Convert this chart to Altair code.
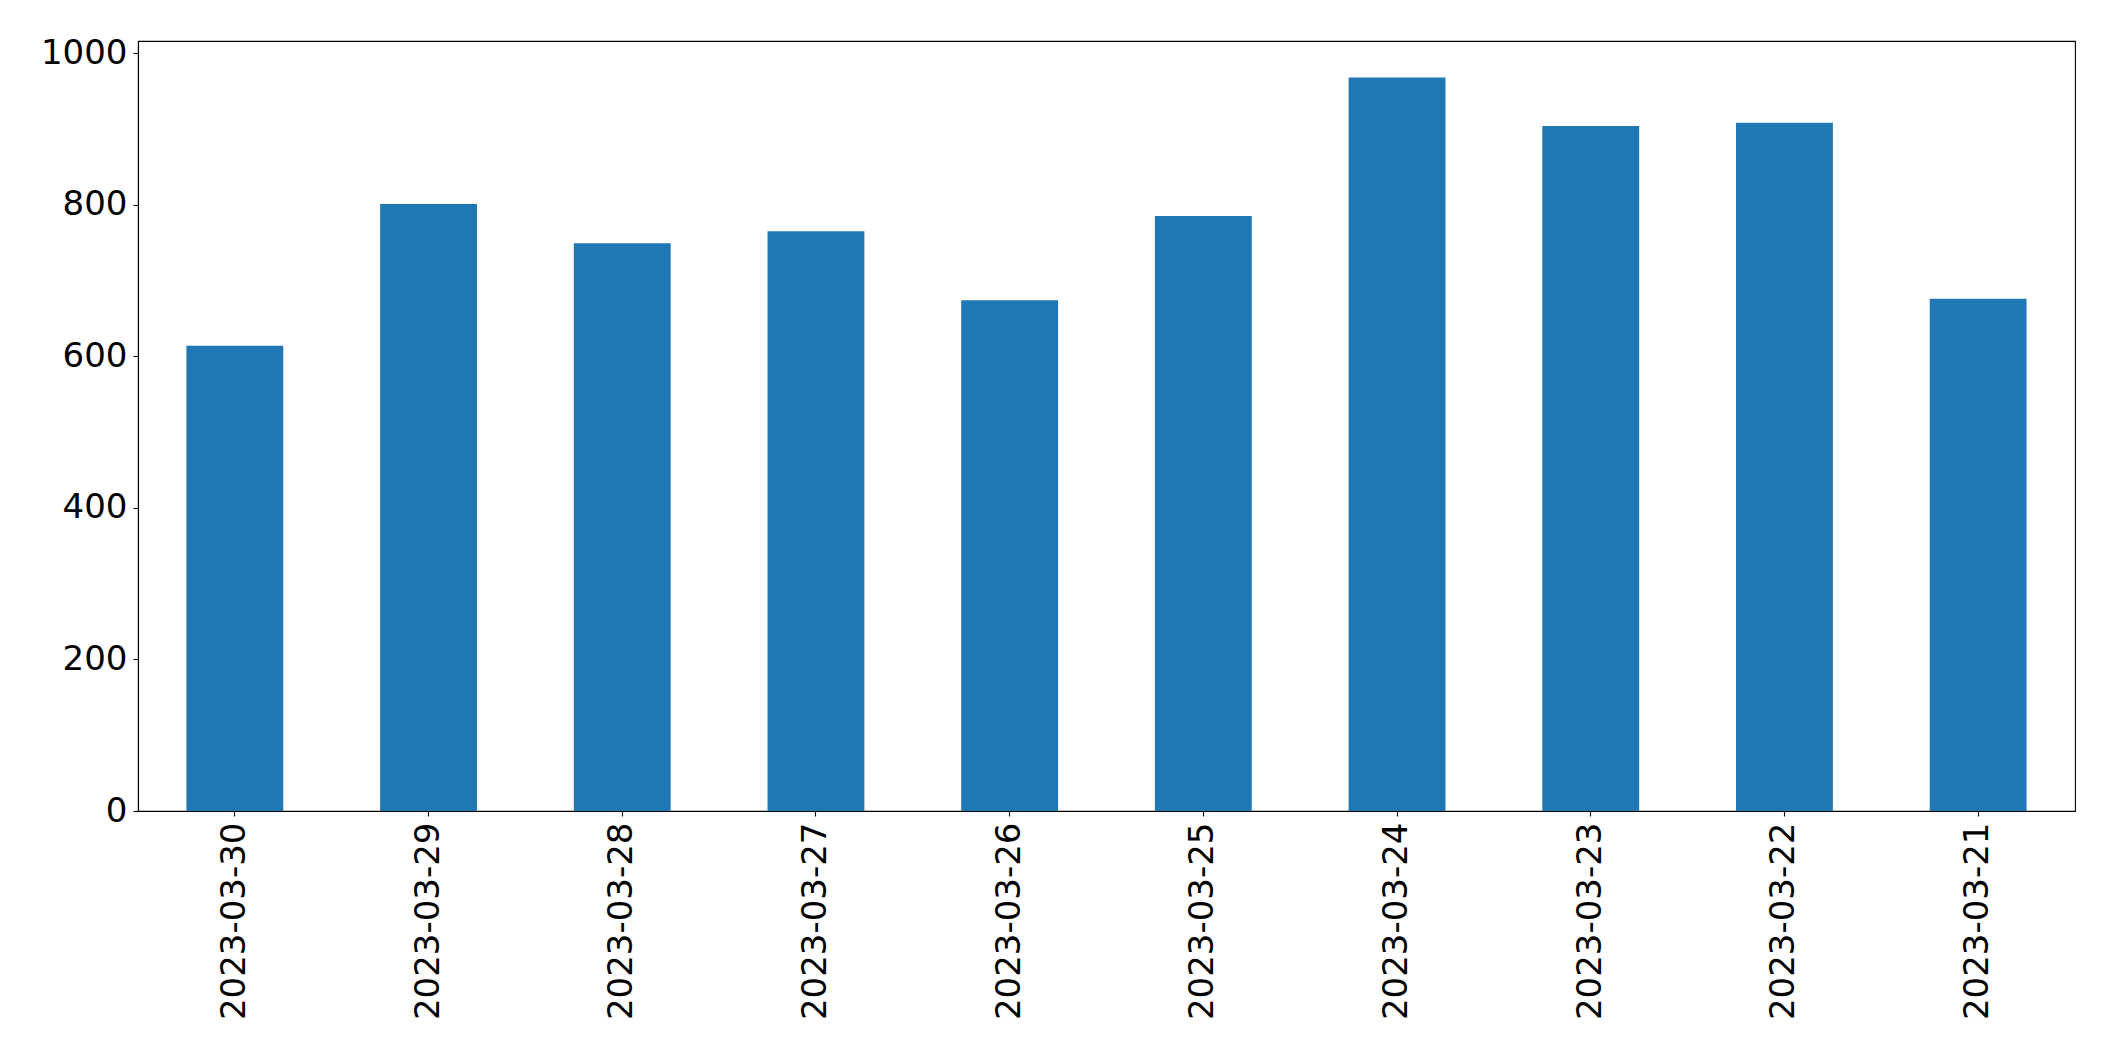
import altair as alt
import pandas as pd

dates = ["2023-03-30", "2023-03-29", "2023-03-28", "2023-03-27", "2023-03-26",
         "2023-03-25", "2023-03-24", "2023-03-23", "2023-03-22", "2023-03-21"]
values = [614, 801, 749, 765, 674, 785, 968, 904, 908, 676]
y_ticks = [0, 200, 400, 600, 800, 1000]

df = pd.DataFrame({"date": dates, "value": values})

chart = alt.Chart(df).mark_bar(color="#1f77b4").encode(
    x=alt.X("date:N", sort=None, title=None,
            scale=alt.Scale(paddingInner=0.5, paddingOuter=0.25),
            axis=alt.Axis(labelAngle=270, labelFont="DejaVu Sans", labelFontSize=34,
                          labelLimit=0, labelColor="black", tickColor="black", tickSize=5,
                          tickWidth=1.1, domainColor="black", domainWidth=1.1,
                          labelPadding=6, grid=False)),
    y=alt.Y("value:Q", title=None,
            scale=alt.Scale(domain=[0, 1016], nice=False, zero=True),
            axis=alt.Axis(values=y_ticks, format="d", labelFont="DejaVu Sans",
                          labelFontSize=34, labelColor="black", tickColor="black",
                          tickSize=5, tickWidth=1.1, domainColor="black", domainWidth=1.1,
                          labelPadding=6, grid=False)),
).properties(
    width=1937, height=770,
    autosize=alt.AutoSizeParams(type="none"),
    padding={"left": 138, "top": 41, "right": 40, "bottom": 252},
    background="white",
).configure_view(
    stroke="black", strokeWidth=1.1
)

chart.save("out.html", embed_options={"renderer": "svg", "actions": False})
